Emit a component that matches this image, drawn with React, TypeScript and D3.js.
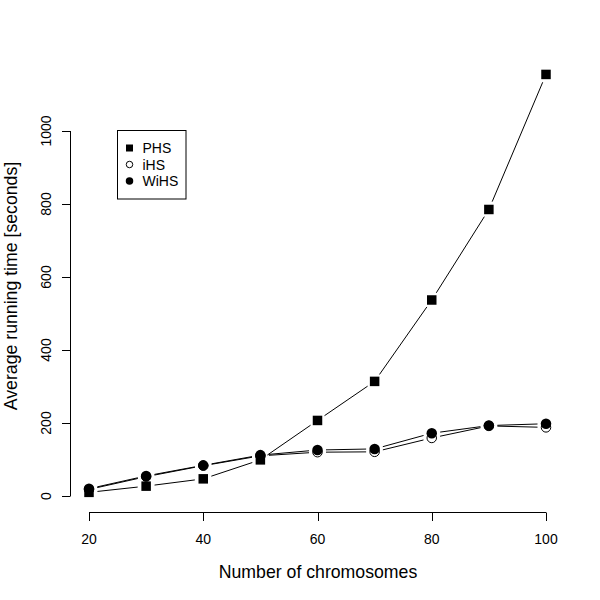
import React from "react";
import * as d3 from "d3";

const chromosomes = [20, 30, 40, 50, 60, 70, 80, 90, 100];
const phs = [10, 27, 47, 99, 207, 314, 537, 785, 1155];
const ihs = [18, 53, 83, 110, 120, 121, 159, 192, 188];
const wihs = [20, 55, 84, 112, 126, 129, 172, 193, 198];
const xTicks = [20, 40, 60, 80, 100];
const yTicks = [0, 200, 400, 600, 800, 1000];
const legendLabels = ["PHS", "iHS", "WiHS"];

const W = 600;
const H = 600;
const FONT = "'Liberation Sans', Arial, Helvetica, sans-serif";
const axisX = 70.5; // y-axis line position
const axisY = 512.5; // x-axis line position
const tick = 8.5;
const gap = 8.5;

type Kind = "square" | "open" | "filled";

export default function App() {
  const x = d3.scaleLinear().domain([20, 100]).range([89, 546]);
  const y = d3.scaleLinear().domain([0, 1000]).range([496, 131]);

  const series: { vals: number[]; kind: Kind }[] = [
    { vals: phs, kind: "square" },
    { vals: ihs, kind: "open" },
    { vals: wihs, kind: "filled" },
  ];

  const segments = (vals: number[]) => {
    const pts = chromosomes.map((c, i) => [x(c), y(vals[i])]);
    const out: { x1: number; y1: number; x2: number; y2: number }[] = [];
    for (let i = 0; i < pts.length - 1; i++) {
      const [ax, ay] = pts[i];
      const [bx, by] = pts[i + 1];
      const dx = bx - ax;
      const dy = by - ay;
      const len = Math.hypot(dx, dy);
      if (len <= 2 * gap) continue;
      const ux = dx / len;
      const uy = dy / len;
      out.push({ x1: ax + ux * gap, y1: ay + uy * gap, x2: bx - ux * gap, y2: by - uy * gap });
    }
    return out;
  };

  const marker = (kind: Kind, cx: number, cy: number, s: number, key: string) => {
    if (kind === "square") {
      return <rect key={key} x={cx - s / 2} y={cy - s / 2} width={s} height={s} fill="#000" />;
    }
    if (kind === "open") {
      return <circle key={key} cx={cx} cy={cy} r={s / 2 - 0.5} fill="none" stroke="#000" strokeWidth={1} />;
    }
    return <circle key={key} cx={cx} cy={cy} r={s / 2} fill="#000" />;
  };

  const legendKinds: Kind[] = ["square", "open", "filled"];
  const legendRows = [148, 164.5, 181];

  return (
    <svg
      width={W}
      height={H}
      style={{ position: "absolute", left: 0, top: 0, background: "#fff" }}
      fontFamily={FONT}
    >
      <rect x={0} y={0} width={W} height={H} fill="#fff" />

      {/* x axis */}
      <line x1={x(20)} x2={x(100)} y1={axisY} y2={axisY} stroke="#000" strokeWidth={1} />
      {xTicks.map((t) => (
        <g key={"xt" + t}>
          <line x1={Math.round(x(t)) + 0.5} x2={Math.round(x(t)) + 0.5} y1={axisY} y2={axisY + tick} stroke="#000" />
          <text x={x(t)} y={544} textAnchor="middle" fontSize={14} fill="#000">
            {t}
          </text>
        </g>
      ))}
      <text x={318} y={578} textAnchor="middle" fontSize={17.7} fill="#000">
        Number of chromosomes
      </text>

      {/* y axis */}
      <line x1={axisX} x2={axisX} y1={y(0)} y2={y(1000)} stroke="#000" strokeWidth={1} />
      {yTicks.map((t) => (
        <g key={"yt" + t}>
          <line x1={axisX - tick} x2={axisX} y1={Math.round(y(t)) + 0.5} y2={Math.round(y(t)) + 0.5} stroke="#000" />
          <text
            transform={`translate(50.5,${y(t)}) rotate(-90)`}
            textAnchor="middle"
            fontSize={14}
            fill="#000"
          >
            {t}
          </text>
        </g>
      ))}
      <text
        transform={`translate(16.5,${286}) rotate(-90)`}
        textAnchor="middle"
        fontSize={17.7}
        fill="#000"
      >
        Average running time [seconds]
      </text>

      {/* series */}
      {series.map((s, si) => (
        <g key={"s" + si}>
          {segments(s.vals).map((sg, i) => (
            <line key={i} {...sg} stroke="#000" strokeWidth={1} />
          ))}
          {chromosomes.map((c, i) =>
            marker(s.kind, x(c), y(s.vals[i]), s.kind === "square" ? 9.5 : 10.5, "m" + si + "-" + i)
          )}
        </g>
      ))}

      {/* legend */}
      <rect x={117.5} y={130.5} width={68.5} height={68.5} fill="#fff" stroke="#000" strokeWidth={1} />
      {legendLabels.map((lab, i) => (
        <g key={"lg" + i}>
          {marker(legendKinds[i], 129.5, legendRows[i], legendKinds[i] === "square" ? 7 : 7.5, "lm" + i)}
          <text x={142.5} y={legendRows[i] + 5} fontSize={14} fill="#000">
            {lab}
          </text>
        </g>
      ))}
    </svg>
  );
}
